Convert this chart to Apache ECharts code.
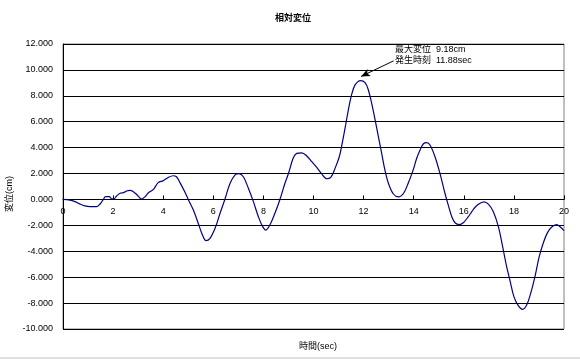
<!DOCTYPE html>
<html><head><meta charset="utf-8">
<script src="https://cdn.jsdelivr.net/npm/echarts@6/dist/echarts.min.js"></script>
<style>html,body{margin:0;padding:0;background:#fff}#c{width:580px;height:361px}</style>
</head><body><div id="c"></div>
<script>
const titleText = '相対変位';
const xName = '時間(sec)';
const yName = '変位(cm)';
const timeSec = [0,0.28,0.48,0.68,0.88,1.08,1.35,1.48,1.61,1.7,1.85,1.94,2.04,2.14,2.28,2.41,2.54,2.67,2.81,2.97,3.14,3.27,3.41,3.61,3.8,4.0,4.2,4.4,4.53,4.67,4.87,5.0,5.2,5.4,5.54,5.71,5.87,6.07,6.27,6.47,6.67,6.87,7.03,7.2,7.4,7.6,7.8,7.97,8.1,8.26,8.46,8.66,8.86,9.0,9.19,9.33,9.53,9.73,9.93,10.13,10.33,10.53,10.69,10.86,11.03,11.12,11.26,11.39,11.52,11.66,11.88,12.06,12.19,12.32,12.46,12.59,12.72,12.85,12.99,13.19,13.39,13.59,13.78,13.98,14.12,14.25,14.38,14.52,14.65,14.85,15.05,15.25,15.38,15.52,15.65,15.82,15.98,16.18,16.32,16.45,16.65,16.81,16.98,17.18,17.38,17.55,17.71,17.84,18.0,18.18,18.35,18.51,18.67,18.84,19.01,19.17,19.33,19.5,19.71,19.84,20.0];
const dispCm = [0,-0.05,-0.17,-0.35,-0.5,-0.55,-0.55,-0.35,0.0,0.22,0.22,0.05,0.05,0.27,0.48,0.52,0.65,0.7,0.6,0.33,0.03,0.2,0.52,0.78,1.3,1.45,1.7,1.83,1.75,1.3,0.55,0,-0.8,-1.85,-2.6,-3.18,-3.0,-2.23,-1.07,0.05,1.25,1.9,2.0,1.75,0.86,-0.17,-1.33,-2.1,-2.36,-1.97,-1.07,0,1.25,2.0,3.2,3.56,3.6,3.36,2.92,2.48,1.97,1.6,1.7,2.4,3.3,4.08,5.5,6.9,8.07,8.84,9.18,9.02,8.45,7.43,6.14,4.85,3.57,2.28,1.25,0.42,0.2,0.46,1.25,2.28,3.18,3.8,4.28,4.38,4.2,3.3,2.0,0.46,-0.44,-1.33,-1.8,-1.95,-1.8,-1.33,-0.94,-0.6,-0.3,-0.18,-0.36,-0.94,-2.1,-3.64,-5.19,-6.22,-7.5,-8.22,-8.48,-8.15,-7.25,-5.96,-4.42,-3.38,-2.6,-2.15,-1.95,-2.1,-2.4];
const maxTime = 11.88;
const maxDisp = 9.18;
const annoLabel1 = '最大変位';
const annoLabel2 = '発生時刻';
const annoAt = [13.25, 11.15];
const arrowFrom = [13.2, 10.7];
const arrowTo = [11.9, 9.5];

const data = timeSec.map((t, i) => [t, dispCm[i]]);
const F = '"Liberation Sans", "Noto Sans CJK JP", sans-serif';
const GRID = {left: 63, right: 16, top: 44, bottom: 32};
const chart = echarts.init(document.getElementById('c'), null, {renderer: 'canvas'});
const xAxisOpt = {
  type: 'value', min: 0, max: 20, interval: 2, position: 'bottom', offset: 0,
  axisLine: {onZero: false, lineStyle: {color: '#000', width: 1}},
  axisTick: {inside: true, length: 4, lineStyle: {color: '#000'}},
  axisLabel: {color: '#000', fontSize: 9, fontFamily: F, margin: 8},
  splitLine: {show: false}
};
chart.setOption({
  animation: false,
  backgroundColor: '#fff',
  title: [
    {text: titleText, left: 288, top: 9, textAlign: 'center', textStyle: {fontSize: 9, fontWeight: 'bold', color: '#000', fontFamily: F}},
    {text: xName, left: 313, top: 337, textAlign: 'center', textStyle: {fontSize: 9, fontWeight: 'normal', color: '#000', fontFamily: F}}
  ],
  graphic: [
    {type: 'text', left: 5, top: 176, rotation: Math.PI / 2, style: {text: yName, font: '9px ' + F, fill: '#000'}},
    {type: 'line', shape: {x1: 0, y1: 358, x2: 580, y2: 358}, style: {stroke: '#c0c0c0', lineWidth: 1}}
  ],
  grid: Object.assign({show: true, borderColor: '#808080', borderWidth: 1, backgroundColor: 'transparent'}, GRID),
  xAxis: xAxisOpt,
  yAxis: {
    type: 'value', min: -10, max: 12, interval: 2,
    axisLine: {show: true, onZero: false, lineStyle: {color: '#000', width: 1}},
    axisTick: {show: true, inside: true, length: 4, lineStyle: {color: '#000'}},
    axisLabel: {color: '#000', fontSize: 9, fontFamily: F, margin: 10, formatter: v => v.toFixed(3)},
    splitLine: {show: true, lineStyle: {color: '#000', width: 1}}
  },
  series: [{
    type: 'line', data: data, smooth: 0.35, symbol: 'none',
    lineStyle: {color: '#000080', width: 1.2},
    markLine: {
      silent: true, animation: false,
      symbol: ['none', 'arrow'], symbolSize: [6, 9],
      lineStyle: {color: '#000', width: 1, type: 'solid'},
      label: {show: false},
      data: [[{coord: arrowFrom}, {coord: arrowTo}]]
    },
    markPoint: {
      silent: true, animation: false,
      data: [{coord: annoAt, symbol: 'circle', symbolSize: 0,
        label: {show: true, position: 'right', distance: 0, color: '#000', fontSize: 9, fontFamily: F, lineHeight: 11, align: 'left',
          formatter: annoLabel1 + '  ' + maxDisp.toFixed(2) + 'cm\n' + annoLabel2 + '  ' + maxTime.toFixed(2) + 'sec'}}]
    }
  }]
});
// place the x axis (line, ticks, labels) on the y = 0 line
const y0 = chart.convertToPixel({yAxisIndex: 0}, 0);
const gridBottomPx = chart.getHeight() - GRID.bottom;
chart.setOption({xAxis: {offset: y0 - gridBottomPx}});
</script></body></html>
